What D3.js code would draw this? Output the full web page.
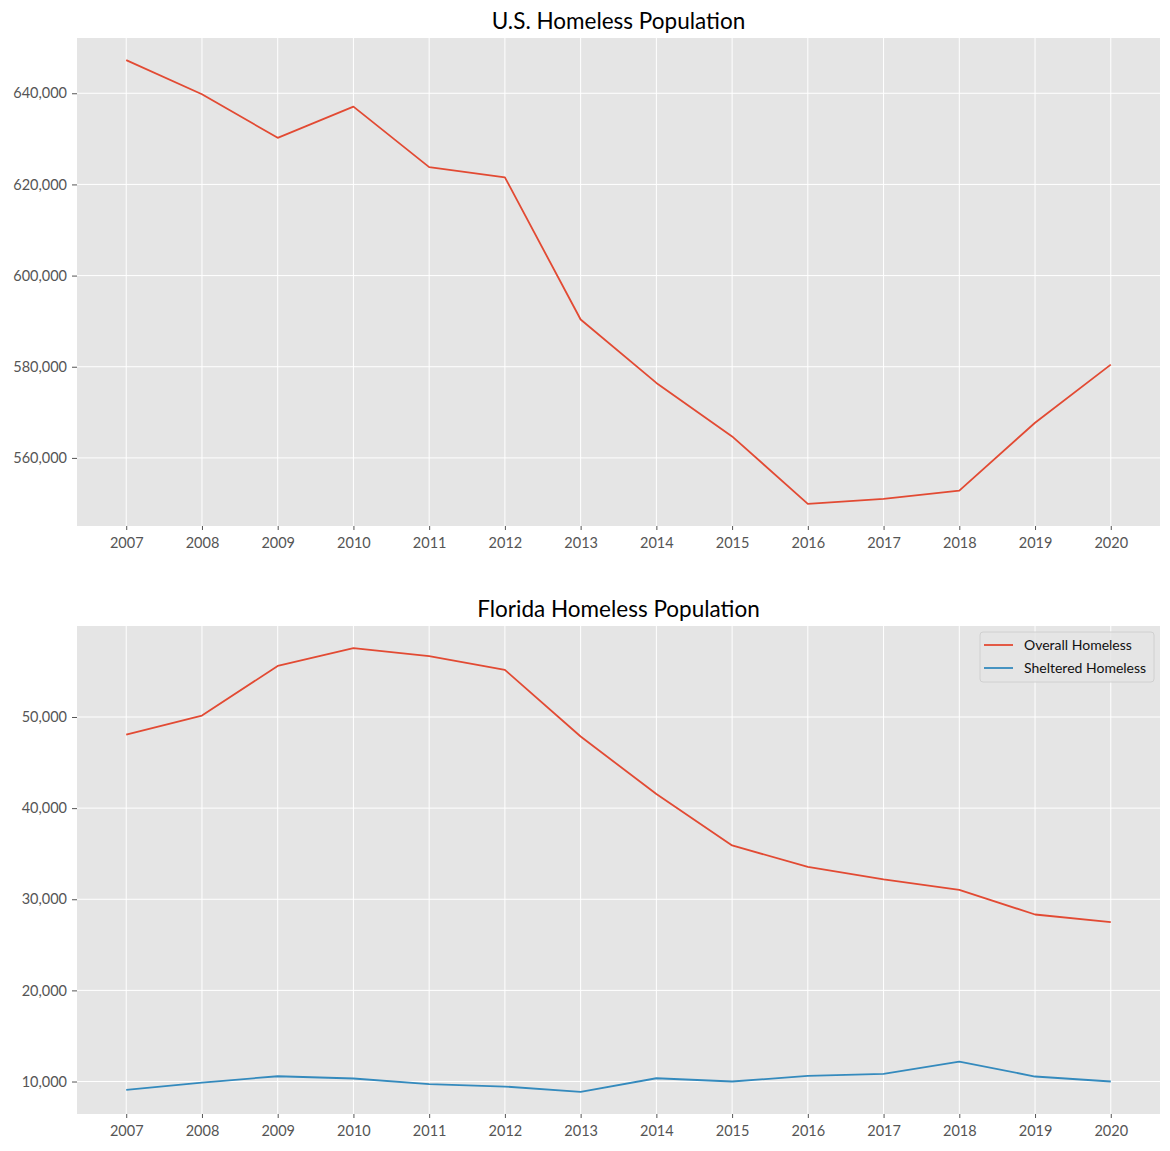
<!DOCTYPE html>
<html>
<head>
<meta charset="utf-8">
<script src="https://cdn.jsdelivr.net/npm/d3@7"></script>
<style>
  html, body { margin: 0; padding: 0; background: #fff; }
  svg { display: block; }
  text { font-family: Lato, "Noto Sans", sans-serif; }
</style>
</head>
<body>
<svg id="chart" width="1170" height="1151"></svg>
<script>
// ---- Data ----
const years = [2007, 2008, 2009, 2010, 2011, 2012, 2013, 2014, 2015, 2016, 2017, 2018, 2019, 2020];
const usHomeless = [647258, 639784, 630227, 637077, 623788, 621553, 590364, 576450, 564708, 549928, 550996, 552830, 567715, 580466];
const flOverall = [48069, 50158, 55599, 57551, 56687, 55170, 47862, 41542, 35900, 33559, 32190, 31030, 28328, 27487];
const flSheltered = [9090, 9890, 10580, 10330, 9710, 9450, 8870, 10360, 10000, 10620, 10840, 12190, 10550, 10000];
const usTicks = [560000, 580000, 600000, 620000, 640000];
const flTicks = [10000, 20000, 30000, 40000, 50000];
const titles = ["U.S. Homeless Population", "Florida Homeless Population"];
const seriesNames = ["Overall Homeless", "Sheltered Homeless"];
const colors = ["#E24A33", "#348ABD"];

const svg = d3.select("#chart");
const fmt = d3.format(",");

function padded(values) {
  const lo = d3.min(values), hi = d3.max(values);
  const m = (hi - lo) * 0.05;
  return [lo - m, hi + m];
}

function panel(top, title, seriesList, yTicks, legend) {
  const left = 77, right = 1160, height = 488;
  const bottom = top + height;
  const xPad = (years[years.length - 1] - years[0]) * 0.05;
  const x = d3.scaleLinear()
    .domain([years[0] - xPad, years[years.length - 1] + xPad])
    .range([left, right]);
  const all = seriesList.flatMap(s => s.values);
  const y = d3.scaleLinear().domain(padded(all)).range([bottom, top]);

  const g = svg.append("g");
  g.append("rect").attr("x", left).attr("y", top)
    .attr("width", right - left).attr("height", height).attr("fill", "#E5E5E5");

  // grid
  g.selectAll(".vg").data(years).join("line")
    .attr("x1", d => x(d)).attr("x2", d => x(d))
    .attr("y1", top).attr("y2", bottom)
    .attr("stroke", "#fff").attr("stroke-width", 1);
  g.selectAll(".hg").data(yTicks).join("line")
    .attr("x1", left).attr("x2", right)
    .attr("y1", d => y(d)).attr("y2", d => y(d))
    .attr("stroke", "#fff").attr("stroke-width", 1);

  // axes
  const xAxis = d3.axisBottom(x).tickValues(years).tickFormat(d3.format("d"))
    .tickSize(4).tickPadding(8);
  const xa = g.append("g").attr("transform", `translate(0,${bottom})`).call(xAxis);
  xa.select(".domain").remove();
  xa.selectAll(".tick line").attr("stroke", "#555");
  xa.selectAll(".tick text").attr("fill", "#555").attr("font-size", 14.5);

  const yAxis = d3.axisLeft(y).tickValues(yTicks).tickFormat(fmt)
    .tickSize(5).tickPadding(5);
  const ya = g.append("g").attr("transform", `translate(${left},0)`).call(yAxis);
  ya.select(".domain").remove();
  ya.selectAll(".tick line").attr("stroke", "#555");
  ya.selectAll(".tick text").attr("fill", "#555").attr("font-size", 14.5);

  // lines
  const line = d3.line().x((d, i) => x(years[i])).y(d => y(d));
  seriesList.forEach(s => {
    g.append("path").datum(s.values)
      .attr("d", line).attr("fill", "none")
      .attr("stroke", s.color).attr("stroke-width", 1.8)
      .attr("stroke-linejoin", "round");
  });

  // title
  g.append("text").attr("x", (left + right) / 2).attr("y", top - 9)
    .attr("text-anchor", "middle").attr("font-size", 22.5).attr("fill", "#000")
    .text(title);

  if (legend) {
    const lx = 980, ly = top + 6, lw = 174, lh = 50;
    const lg = g.append("g");
    lg.append("rect").attr("x", lx).attr("y", ly).attr("width", lw).attr("height", lh)
      .attr("rx", 3).attr("fill", "#E5E5E5").attr("fill-opacity", 0.8)
      .attr("stroke", "#d0d0d0").attr("stroke-width", 1);
    seriesList.forEach((s, i) => {
      const cy = ly + 13 + i * 23;
      lg.append("line").attr("x1", lx + 4).attr("x2", lx + 33)
        .attr("y1", cy).attr("y2", cy).attr("stroke", s.color).attr("stroke-width", 1.8);
      lg.append("text").attr("x", lx + 44).attr("y", cy + 5)
        .attr("font-size", 14).attr("fill", "#111").text(s.name);
    });
  }
}

panel(38, titles[0], [{ name: "US", values: usHomeless, color: colors[0] }], usTicks, false);
panel(626, titles[1], [
  { name: seriesNames[0], values: flOverall, color: colors[0] },
  { name: seriesNames[1], values: flSheltered, color: colors[1] }
], flTicks, true);
</script>
</body>
</html>
